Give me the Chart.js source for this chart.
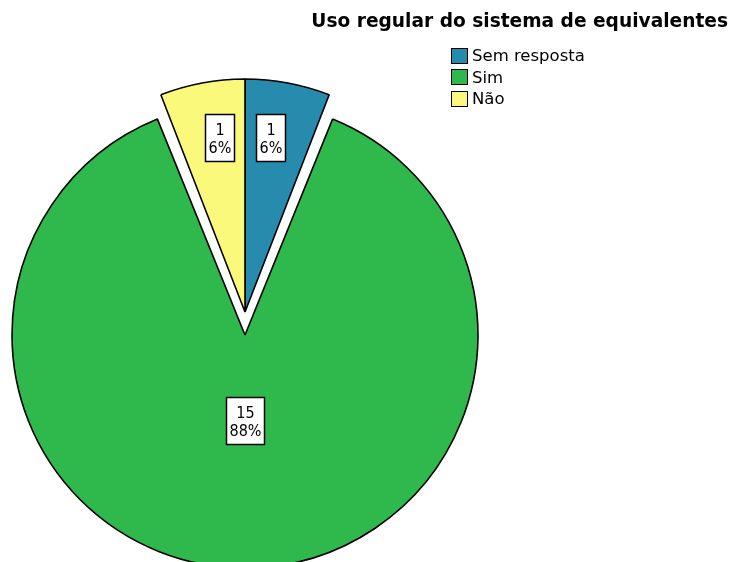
<!DOCTYPE html>
<html>
<head>
<meta charset="utf-8">
<script src="https://cdn.jsdelivr.net/npm/chart.js@4/dist/chart.umd.min.js"></script>
<style>
  html, body { margin:0; padding:0; background:#fff; width:731px; height:562px; overflow:hidden; }
  #wrap { position:relative; width:731px; height:562px; overflow:hidden; }
  #c { position:absolute; left:0; top:0; }
  #title { position:absolute; right:3px; top:10px; font-family:"DejaVu Sans",sans-serif; font-weight:bold; font-size:18.6px; color:#000; white-space:nowrap; }
  #legend { position:absolute; left:451px; top:45px; font-family:"DejaVu Sans",sans-serif; font-size:16.5px; color:#000; }
  .row { display:flex; align-items:center; height:21.5px; }
  .sw { width:15px; height:14px; border:1px solid #000; margin-right:4px; }
</style>
</head>
<body>
<div id="wrap">
  <canvas id="c" width="490" height="624"></canvas>
  <div id="title">Uso regular do sistema de equivalentes</div>
  <div id="legend"></div>
</div>
<script>
const categories = ["Sem resposta", "Sim", "Não"];
const counts = [1, 15, 1];
const percentLabels = ["6%", "88%", "6%"];
const colors = ["#278bae", "#2fb84b", "#fbf97b"];
const explode = [0, 92, 0]; // Chart.js offset (translation = offset/4)

// legend
const leg = document.getElementById('legend');
categories.forEach((c, i) => {
  const r = document.createElement('div'); r.className = 'row';
  const s = document.createElement('div'); s.className = 'sw'; s.style.background = colors[i];
  const t = document.createElement('span'); t.textContent = c;
  r.appendChild(s); r.appendChild(t); leg.appendChild(r);
});

const RADIUS = 233;

const radiusFix = {
  id: 'radiusFix',
  afterDatasetUpdate(chart, args) {
    const meta = chart.getDatasetMeta(args.index);
    meta.data.forEach((arc, i) => {
      const off = explode[i] || 0;
      if (off) arc.outerRadius = RADIUS - off / 4;
    });
  }
};

const boxLabels = {
  id: 'boxLabels',
  afterDatasetsDraw(chart, args, opts) {
    const ctx = chart.ctx;
    const meta = chart.getDatasetMeta(0);
    ctx.save();
    ctx.font = '16px "DejaVu Sans Condensed", "DejaVu Sans", sans-serif';
    ctx.textAlign = 'center';
    ctx.textBaseline = 'middle';
    meta.data.forEach((arc, i) => {
      const p = arc.getProps(['x', 'y', 'startAngle', 'endAngle'], true);
      const mid = (p.startAngle + p.endAngle) / 2;
      const pos = opts.placement[i];
      const base = (explode[i] || 0) / 4;
      let delta = mid + Math.PI / 2;
      while (delta > Math.PI) delta -= 2 * Math.PI;
      while (delta <= -Math.PI) delta += 2 * Math.PI;
      const ang = -Math.PI / 2 + delta * pos.a;
      const d = base + pos.f * RADIUS;
      const cx = p.x + Math.cos(ang) * d;
      const cy = p.y + Math.sin(ang) * d;
      const lines = [String(counts[i]), percentLabels[i]];
      const w = Math.round(Math.max(...lines.map(l => ctx.measureText(l).width)) + 6);
      const lh = 18;
      const h = lh * lines.length + 11;
      const bx = Math.round(cx - w / 2) + 0.5, by = Math.round(cy - h / 2) + 0.5;
      ctx.fillStyle = '#fff';
      ctx.strokeStyle = '#000';
      ctx.lineWidth = 1.5;
      ctx.fillRect(bx, by, w, h);
      ctx.strokeRect(bx, by, w, h);
      ctx.fillStyle = '#000';
      lines.forEach((l, k) => {
        ctx.fillText(l, bx + w / 2, by + 6 + lh * k + lh / 2 + 1);
      });
    });
    ctx.restore();
  }
};

new Chart(document.getElementById('c'), {
  type: 'pie',
  data: {
    labels: categories,
    datasets: [{
      data: counts,
      backgroundColor: colors,
      borderColor: '#000',
      borderWidth: 1.6,
      offset: explode,
      hoverOffset: 0,
      clip: false
    }]
  },
  options: {
    responsive: false,
    animation: false,
    radius: RADIUS,
    layout: { padding: 0 },
    events: [],
    plugins: {
      legend: { display: false },
      title: { display: false },
      tooltip: { enabled: false },
      boxLabels: {
        placement: [ { f: 0.755, a: 0.78 }, { f: 0.365, a: 1 }, { f: 0.755, a: 0.78 } ]
      }
    }
  },
  plugins: [radiusFix, boxLabels]
});
</script>
</body>
</html>
